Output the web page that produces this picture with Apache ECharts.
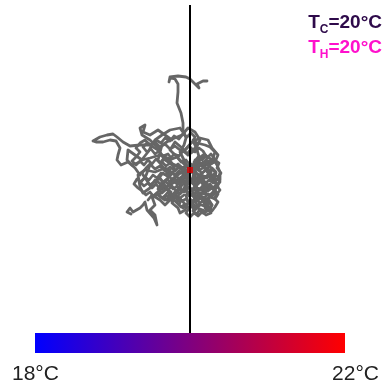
<!DOCTYPE html>
<html><head><meta charset="utf-8">
<script src="https://cdn.jsdelivr.net/npm/echarts@6/dist/echarts.min.js"></script>
<style>html,body{margin:0;padding:0;background:#fff}#c{width:387px;height:385px}</style>
</head><body><div id="c"></div>
<script>
// Track coordinates: offsets from the start point (red dot), in track units (x right, y down)
const trackA = [[-2,-2],[-6,-10],[-10,-18],[-6,-25],[-4,-32],[-7,-40],[-7,-47],[-9,-57],[-13,-67],[-12,-78],[-12,-86],[-15,-91],[-20,-92],[-21,-88],[-20,-93],[-12,-94],[-4,-93],[0,-91],[5,-86],[9,-82],[7,-86],[13,-89],[17,-89]];
const trackB = [[-5,2],[-15,-5],[-25,-10],[-32,-20],[-40,-25],[-50,-25],[-60,-24],[-67,-28],[-73,-33],[-77,-36],[-83,-35],[-90,-33],[-97,-29],[-94,-28],[-87,-28],[-80,-30],[-74,-29],[-70,-22],[-72,-15],[-73,-10],[-69,-5],[-62,-8],[-55,-2],[-50,5]];
const trackC = [[0,0],[-10,8],[-20,15],[-30,20],[-38,27],[-35,35],[-40,40],[-35,45],[-33,55],[-36,48],[-43,40],[-45,32],[-47,35],[-50,38],[-57,42],[-60,38],[-63,42],[-59,44]];
const trackD = [[0,0],[10,-10],[7,-20],[3,-30],[7,-27],[15,-25],[20,-23],[25,-18],[23,-12],[27,-5],[30,2],[30,10],[26,18],[22,25],[15,30],[22,35],[20,40],[13,43],[8,38],[5,30],[2,20],[8,12],[15,8],[22,5]];
const trackE = [[-2,2],[-10,15],[-14,25],[-18,33],[-12,38],[-10,43],[-5,40],[-2,33],[-4,25],[2,20]];
const trackF = [[0,0],[-15,5],[-25,-2],[-35,2],[-45,0],[-52,5],[-50,17],[-47,23],[-40,18],[-35,10],[-28,15],[-22,8],[-15,0],[-20,-10],[-30,-15],[-40,-12],[-48,-10],[-55,-15],[-62,-20],[-63,-10],[-58,-5],[-50,-8],[-42,-18],[-35,-30],[-28,-35],[-20,-40],[-10,-42],[-5,-35]];
const trackG = [[-30,-20],[-40,-30],[-48,-35],[-50,-42],[-45,-45],[-47,-38],[-40,-35],[-32,-40],[-25,-35],[-18,-30]];
const trackH = [[0,0],[10,5],[18,-2],[22,-10],[15,-15],[8,-10],[5,0],[10,10],[18,15],[25,20],[20,25],[10,23],[5,28],[0,35],[5,40],[10,35]];
const trackI = [[-5,-5],[-12,-12],[-20,-20],[-15,-28],[-8,-22],[-2,-15],[5,-20],[10,-30],[5,-38],[-2,-42],[-8,-35],[-20,-30],[-28,-25],[-32,-10],[-25,0],[-18,10],[-25,20],[-32,25],[-25,30],[-15,25],[-8,15],[0,10],[7,18],[15,22]];
const trackJ = [[-40,-5],[-45,8],[-40,15],[-30,8],[-22,20],[-18,28],[-25,35],[-30,30],[-38,25],[-42,30]];
const trackK = [[-5,-20],[2,-28],[10,-32],[18,-30],[22,-22],[28,-15],[25,-8],[18,-5],[10,-5],[5,-10]];
const trackL = [[0,0],[4,-5],[9,-3],[13,-8],[18,-6],[22,-1],[20,5],[24,10],[27,14],[23,18],[18,16],[14,21],[9,19],[5,24],[8,29],[13,27],[17,31],[14,36],[9,34],[4,38],[0,33],[-4,29],[-8,31],[-12,26],[-9,21],[-13,16],[-17,19],[-21,14],[-18,9],[-14,6],[-10,10],[-6,5],[-3,9]];
const trackM = [[0,0],[-4,-4],[-8,-2],[-12,-6],[-16,-3],[-20,-7],[-24,-4],[-28,-8],[-25,-13],[-20,-11],[-16,-16],[-11,-14],[-7,-19],[-3,-16],[1,-21],[5,-18],[9,-22],[13,-19],[16,-14],[12,-10],[8,-13],[4,-8],[8,-4],[12,-6],[16,-2],[19,3],[16,7],[11,5],[7,9],[3,6]];
const trackN = [[2,2],[6,8],[11,12],[15,17],[20,14],[24,19],[28,24],[25,29],[20,27],[16,32],[19,37],[15,41],[10,39],[7,44],[3,41],[5,36],[1,31],[-3,34],[-7,38],[-11,35],[-9,30],[-14,27],[-18,31],[-22,27],[-19,22],[-24,19],[-28,23],[-32,19],[-29,14],[-25,11],[-21,15],[-17,11],[-13,14],[-9,9],[-5,12],[-1,7]];
const trackO = [[-5,0],[-10,-4],[-15,1],[-20,-3],[-25,1],[-30,-4],[-35,-1],[-40,-6],[-44,-2],[-48,3],[-45,8],[-50,12],[-46,16],[-42,13],[-38,18],[-34,14],[-30,19],[-26,15],[-22,20],[-18,16],[-14,21],[-10,17],[-6,22],[-2,18]];
const trackP = [[0,-5],[-4,-10],[-9,-8],[-13,-13],[-18,-11],[-22,-16],[-27,-14],[-31,-19],[-35,-16],[-39,-21],[-43,-18],[-47,-23],[-43,-27],[-38,-25],[-34,-30],[-29,-27],[-25,-32],[-20,-29],[-16,-34],[-11,-31],[-7,-36],[-3,-33],[1,-37],[5,-33],[3,-28],[7,-24],[3,-20],[-1,-24],[-5,-20]];
const trackQ = [[3,-3],[8,-7],[13,-4],[17,-9],[21,-6],[25,-10],[29,-7],[27,-2],[31,3],[28,7],[24,4],[20,8],[24,12],[28,16],[24,20],[20,17],[16,21],[12,17],[8,20],[5,15],[9,11],[5,7],[1,10]];
const trackR = [[0,3],[-4,8],[-1,13],[-5,18],[-2,23],[3,26],[7,31],[11,28],[15,33],[19,30],[22,35],[18,39],[21,43],[16,45],[12,42],[8,46],[4,43],[0,47],[-4,43],[-1,38],[-5,34],[-9,37],[-13,33],[-10,28],[-6,25]];
const trackS = [[-20,0],[-24,5],[-29,3],[-33,8],[-37,5],[-41,10],[-45,7],[-49,12],[-53,9],[-56,14],[-52,18],[-48,21],[-44,25],[-40,22],[-36,27],[-32,24],[-28,28],[-24,25],[-20,29],[-16,26],[-12,30]];
const trackT = [[-10,-20],[-15,-24],[-20,-21],[-25,-26],[-30,-23],[-35,-28],[-40,-25],[-45,-30],[-50,-27],[-54,-22],[-50,-18],[-54,-13],[-58,-9],[-54,-5],[-50,-9],[-46,-5],[-42,-10],[-38,-6],[-34,-11],[-30,-7],[-26,-12],[-22,-8]];
const trackU = [[0,0],[5,4],[2,9],[7,12],[11,8],[15,12],[12,17],[16,22],[11,24],[7,21],[3,25],[-2,22],[-6,18],[-3,13],[-8,10],[-12,14],[-16,9],[-12,5],[-8,1],[-4,-3],[1,-6],[6,-2],[10,-6],[14,-2],[18,3],[22,-1],[26,3],[24,8]];
const trackV = [[2,0],[6,-4],[10,0],[14,-3],[18,1],[22,-2],[26,2],[23,6],[27,10],[23,13],[19,10],[15,14],[11,11],[7,15],[3,12],[6,17],[10,20],[14,17],[18,21],[22,18],[26,22],[22,26],[18,24],[14,28],[10,25],[6,29],[10,33],[14,30],[18,34],[15,38]];
const trackW = [[1,-2],[5,-8],[9,-12],[13,-15],[17,-12],[21,-16],[24,-12],[20,-8],[16,-10],[12,-6],[8,-9],[4,-4],[8,0],[12,3],[16,0],[20,4],[17,8],[13,6],[9,10],[5,8],[2,13],[6,16],[3,20],[-1,17],[-4,21],[-1,26],[4,24],[8,28],[4,32],[0,29]];
const trackX = [[-3,0],[-7,4],[-11,1],[-15,5],[-19,2],[-23,6],[-27,3],[-31,8],[-27,12],[-23,9],[-19,13],[-15,10],[-11,14],[-7,11],[-3,15],[-6,20],[-10,24],[-14,21],[-18,25],[-22,22],[-26,27],[-22,31],[-18,28],[-14,32],[-10,29],[-6,33]];
const trackY = [[5,20],[10,26],[14,33],[18,38],[22,41],[25,37],[28,32],[24,28],[27,24],[30,20],[27,16],[30,12],[28,8],[30,4]];
const tracks = [trackA, trackB, trackC, trackD, trackE, trackF, trackG, trackH, trackI, trackJ, trackK,
                trackL, trackM, trackN, trackO, trackP, trackQ, trackR, trackS, trackT, trackU,
                trackV, trackW, trackX, trackY];

const startPoint = [0, 0];
const boundaryX = 0;
const tempMin = 18, tempMax = 22;
const tempCold = 20, tempHot = 20;
const scaleLabels = [tempMin + '°C', tempMax + '°C'];

const chart = echarts.init(document.getElementById('c'), null, {renderer: 'canvas'});
const series = tracks.map(t => ({
  type: 'line', data: t, showSymbol: false, symbol: 'none', smooth: false,
  lineStyle: {color: '#666666', width: 2.8, cap: 'round', join: 'round'},
  silent: true, animation: false, z: 2
}));
series.push({
  type: 'line', data: [], silent: true, animation: false,
  markLine: {symbol: 'none', silent: true, label: {show: false},
    lineStyle: {color: '#000', width: 2, type: 'solid'},
    data: [{xAxis: boundaryX}]}, z: 3
});
series.push({
  type: 'scatter', data: [startPoint], symbol: 'rect', symbolSize: 6,
  itemStyle: {color: '#e00000'}, z: 5, animation: false, silent: true
});

chart.setOption({
  animation: false,
  grid: {left: 0, right: 0, top: 5, bottom: 52},
  xAxis: {type: 'value', min: -190, max: 197, show: false},
  yAxis: {type: 'value', min: -165, max: 163, inverse: true, show: false},
  series: series,
  graphic: [
    {type: 'rect', shape: {x: 35, y: 333, width: 310, height: 20},
     style: {fill: new echarts.graphic.LinearGradient(0, 0, 1, 0, [{offset: 0, color: '#0000ff'}, {offset: 1, color: '#ff0000'}])}},
    {type: 'text', left: 12, top: 364, style: {text: scaleLabels[0], font: '21px "Liberation Sans", Arial, sans-serif', fill: '#222'}},
    {type: 'text', right: 8, top: 364, style: {text: scaleLabels[1], font: '21px "Liberation Sans", Arial, sans-serif', fill: '#222'}},
    {type: 'text', right: 5, top: 10, style: {
      text: '{t|T}{s|C}{t|=' + tempCold + '°C}',
      rich: {t: {font: 'bold 19px "Liberation Sans", Arial, sans-serif', fill: '#2e0a4a', lineHeight: 22},
             s: {font: 'bold 12px "Liberation Sans", Arial, sans-serif', fill: '#2e0a4a', padding: [14, 0, 0, 0], lineHeight: 22}}}},
    {type: 'text', right: 5, top: 35, style: {
      text: '{t|T}{s|H}{t|=' + tempHot + '°C}',
      rich: {t: {font: 'bold 19px "Liberation Sans", Arial, sans-serif', fill: '#ff10cc', lineHeight: 22},
             s: {font: 'bold 12px "Liberation Sans", Arial, sans-serif', fill: '#ff10cc', padding: [14, 0, 0, 0], lineHeight: 22}}}}
  ]
});
</script></body></html>
